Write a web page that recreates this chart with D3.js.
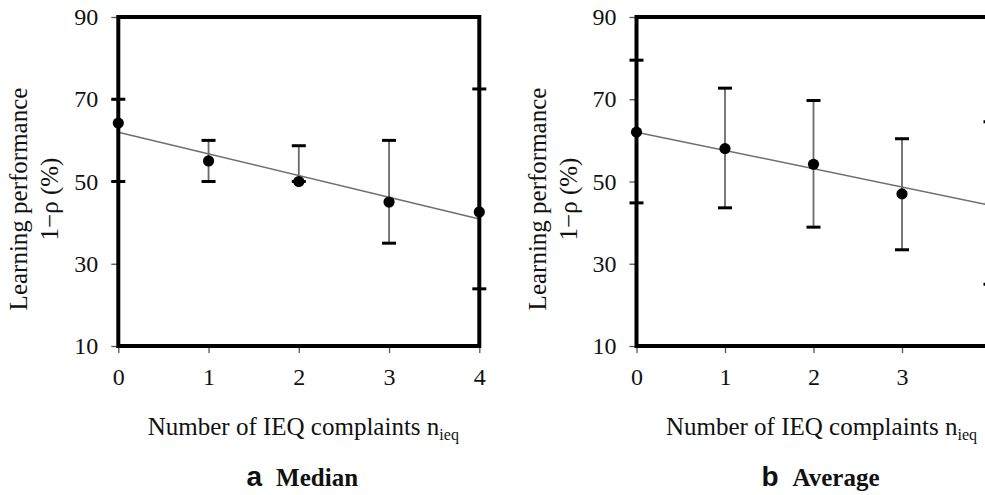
<!DOCTYPE html>
<html>
<head>
<meta charset="utf-8">
<script src="https://cdn.jsdelivr.net/npm/d3@7"></script>
<style>
  html, body { margin: 0; padding: 0; background: #fff; }
  svg { display: block; }
</style>
</head>
<body>
<svg id="chart" width="985" height="495"></svg>
<script>
// ---- data ----
const categories = [0, 1, 2, 3, 4];
const yTicks = [10, 30, 50, 70, 90];

const medianValues = [64.2, 55.0, 50.0, 45.0, 42.6];
const medianUpper  = [70.0, 60.0, 58.7, 60.0, 72.5];
const medianLower  = [50.0, 50.0, 50.0, 35.0, 23.9];
const medianTrend  = [62.0, 40.9];   // fitted line at n = 0 and n = 4

const averageValues = [62.0, 58.0, 54.2, 47.0, 44.8];
const averageUpper  = [79.5, 72.7, 69.7, 60.4, 64.5];
const averageLower  = [44.8, 43.6, 38.9, 33.4, 25.0];
const averageTrend  = [62.0, 44.2];

const xTitle = "Number of IEQ complaints n";
const xTitleSub = "ieq";
const yTitle1 = "Learning performance";
const yTitle2 = "1\u2212\u03c1 (%)";

const panelsData = [
  { letter: "a", name: "Median",  values: medianValues,  upper: medianUpper,  lower: medianLower,  trend: medianTrend },
  { letter: "b", name: "Average", values: averageValues, upper: averageUpper, lower: averageLower, trend: averageTrend }
];

// ---- layout ----
const layout = [
  { x0: 118.3, x1: 479.3 },
  { x0: 636.5, x1: 990.5 }
];
const yTop = 17, yBottom = 346;
const SERIF = "Liberation Serif";
const SANS = "Liberation Sans";

const svg = d3.select("#chart");

panelsData.forEach((p, i) => {
  const L = layout[i];
  const x = d3.scaleLinear().domain([0, 4]).range([L.x0, L.x1]);
  const y = d3.scaleLinear().domain([10, 90]).range([yBottom, yTop]);
  const g = svg.append("g");

  // axes
  const ya = g.append("g")
    .attr("transform", `translate(${L.x0},0)`)
    .call(d3.axisLeft(y).tickValues(yTicks).tickSize(7).tickPadding(13).tickFormat(d3.format("d")));
  const xa = g.append("g")
    .attr("transform", `translate(0,${yBottom})`)
    .call(d3.axisBottom(x).tickValues(categories).tickSize(7).tickPadding(15).tickFormat(d3.format("d")));
  [ya, xa].forEach(a => {
    a.attr("font-family", SERIF).attr("font-size", 24);
    a.select(".domain").remove();
    a.selectAll(".tick line").attr("stroke", "#555").attr("stroke-width", 1.3);
    a.selectAll(".tick text").attr("fill", "#111");
  });

  // trend line
  g.append("line")
    .attr("x1", x(categories[0])).attr("y1", y(p.trend[0]))
    .attr("x2", x(categories[categories.length - 1])).attr("y2", y(p.trend[1]))
    .attr("stroke", "#6e6e6e").attr("stroke-width", 1.5);

  // error bars
  const eb = g.append("g").selectAll("g").data(categories).join("g");
  eb.append("line")
    .attr("x1", d => x(d)).attr("x2", d => x(d))
    .attr("y1", (d, j) => y(p.upper[j])).attr("y2", (d, j) => y(p.lower[j]))
    .attr("stroke", "#6a6a6a").attr("stroke-width", 1.8);
  eb.append("line")
    .attr("x1", d => x(d) - 7).attr("x2", d => x(d) + 7)
    .attr("y1", (d, j) => y(p.upper[j])).attr("y2", (d, j) => y(p.upper[j]))
    .attr("stroke", "#000").attr("stroke-width", 3);
  eb.append("line")
    .attr("x1", d => x(d) - 7).attr("x2", d => x(d) + 7)
    .attr("y1", (d, j) => y(p.lower[j])).attr("y2", (d, j) => y(p.lower[j]))
    .attr("stroke", "#000").attr("stroke-width", 3);

  // frame
  g.append("rect")
    .attr("x", L.x0).attr("y", yTop)
    .attr("width", L.x1 - L.x0).attr("height", yBottom - yTop)
    .attr("fill", "none").attr("stroke", "#000").attr("stroke-width", 4);

  // points
  g.append("g").selectAll("circle").data(categories).join("circle")
    .attr("cx", d => x(d)).attr("cy", (d, j) => y(p.values[j]))
    .attr("r", 5.6).attr("fill", "#000");

  // y title
  const ty = 199;
  g.append("text")
    .attr("transform", `translate(${L.x0 - 91},${ty}) rotate(-90)`)
    .attr("text-anchor", "middle")
    .attr("font-family", SERIF).attr("font-size", 25).attr("fill", "#111")
    .text(yTitle1);
  g.append("text")
    .attr("transform", `translate(${L.x0 - 60},${ty}) rotate(-90)`)
    .attr("text-anchor", "middle")
    .attr("font-family", SERIF).attr("font-size", 25).attr("fill", "#111")
    .text(yTitle2);

  // x title
  const xt = g.append("text")
    .attr("x", L.x0 + 185).attr("y", 435)
    .attr("text-anchor", "middle")
    .attr("font-family", SERIF).attr("font-size", 25).attr("fill", "#111");
  xt.append("tspan").text(xTitle);
  xt.append("tspan").attr("dy", 5).attr("font-size", 16).text(xTitleSub);

  // caption
  const cap = g.append("text")
    .attr("x", L.x0 + 184).attr("y", 486)
    .attr("text-anchor", "middle").attr("fill", "#111");
  cap.append("tspan").attr("font-family", SANS).attr("font-weight", "bold").attr("font-size", 28).text(p.letter);
  cap.append("tspan").attr("dx", 14).attr("font-family", SERIF).attr("font-weight", "bold").attr("font-size", 25).text(p.name);
});
</script>
</body>
</html>
